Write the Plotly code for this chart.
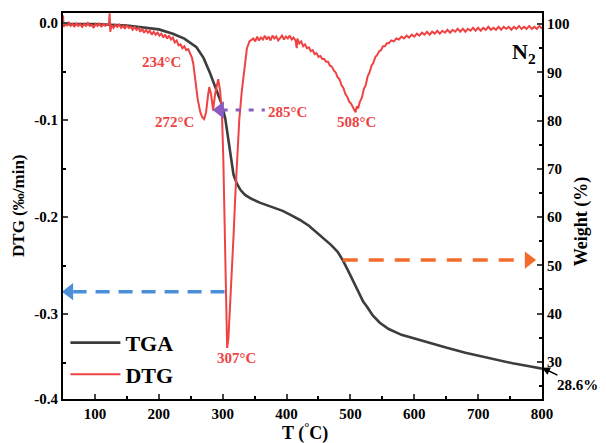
import plotly.graph_objects as go

# ---------------- data ----------------
tga_T = [50, 100, 150, 180, 200, 222, 240, 259, 270, 280, 290, 298, 304, 308, 311, 314, 317, 322,
         328, 335, 345, 358, 375, 394, 410, 421, 435, 448, 460, 470, 480, 488, 496, 504, 512, 520,
         526, 535, 546, 560, 580, 598, 625, 651, 680, 703, 730, 754, 780, 800]
tga_W = [100.0, 100.0, 99.7, 99.3, 98.9, 98.0, 97.0, 95.2, 93.0, 89.9, 86.5, 83.6, 80.5, 77.0, 74.0,
         71.0, 68.8, 67.0, 65.6, 64.6, 63.8, 63.0, 62.2, 61.3, 60.2, 59.4, 58.2, 56.7, 55.3, 54.2,
         52.8, 51.1, 49.0, 46.8, 44.4, 42.5, 41.4, 39.6, 38.1, 36.8, 35.6, 34.9, 33.8, 32.9, 31.9,
         31.2, 30.4, 29.7, 29.1, 28.6]

dtg_T = [50, 51, 53, 56, 59, 62, 65, 68, 71, 74, 77, 80, 83, 86, 89, 92, 95, 98, 101, 104, 107,
         110, 113, 116, 119, 122, 123, 124, 126, 129, 132, 135, 138, 141, 144, 147, 150, 153, 156,
         159, 162, 165, 168, 171, 174, 177, 180, 183, 186, 189, 192, 195, 198, 201, 204, 207, 210,
         213, 216, 219, 222, 225, 228, 231, 234, 237, 240, 243, 246, 249, 252, 254, 257, 261, 265,
         268, 271, 274, 277, 279, 282, 285, 288, 291, 293, 296, 299, 301, 303, 305, 307, 309, 311,
         314, 317, 320, 323, 326, 330, 334, 338, 342, 345,
         348, 351, 354, 357, 360, 363, 366, 369, 372, 375, 378, 381, 384, 387, 390, 393, 396, 399,
         402, 405, 408, 411, 414, 416, 417, 420, 423, 426, 429, 432, 435, 438, 441, 444, 447, 450,
         453, 456, 459, 462, 465, 468, 471, 474, 477, 480, 483, 486, 489, 492, 495, 498, 501, 504,
         506, 508, 510, 512, 515, 518, 521, 524, 527, 530, 533, 536, 539, 542, 545, 548, 551, 554,
         557, 560, 564, 568, 572, 576, 580, 584, 588, 592, 596, 600, 604, 608, 612, 616, 620, 624,
         628, 632, 636, 640, 644, 648, 652, 656, 660, 664, 668, 672, 676, 680, 684, 688, 692, 696,
         700, 704, 708, 712, 716, 720, 724, 728, 732, 736, 740, 744, 748, 752, 756, 760, 764, 768,
         772, 776, 780, 784, 788, 792, 796, 800]
dtg_V = [0.008, -0.004, 0.000, -0.003, 0.001, -0.003, -0.001, -0.004, 0.000, -0.003, -0.001,
         -0.004, -0.001, -0.003, 0.000, -0.003, -0.002, -0.005, -0.001, -0.003, 0.000, -0.004,
         -0.001, -0.003, -0.002, -0.001, 0.010, -0.009, -0.002, -0.005, -0.002, -0.004, -0.001,
         -0.005, -0.003, -0.006, -0.002, -0.005, -0.004, -0.007, -0.004, -0.007, -0.005, -0.009,
         -0.006, -0.010, -0.007, -0.010, -0.008, -0.012, -0.009, -0.012, -0.010, -0.013, -0.011,
         -0.015, -0.012, -0.016, -0.013, -0.017, -0.015, -0.020, -0.018, -0.023, -0.022, -0.026,
         -0.024, -0.028, -0.027, -0.031, -0.036, -0.042, -0.056, -0.079, -0.092, -0.097, -0.099,
         -0.092, -0.075, -0.066, -0.074, -0.090, -0.074, -0.062, -0.058, -0.070, -0.096, -0.140,
         -0.200, -0.280, -0.335, -0.325, -0.300, -0.265, -0.220, -0.175, -0.135, -0.100, -0.070,
         -0.045, -0.026, -0.019, -0.017,
         -0.016, -0.019, -0.014, -0.018, -0.015, -0.017, -0.013, -0.017, -0.014, -0.018, -0.013,
         -0.016, -0.014, -0.018, -0.015, -0.013, -0.017, -0.014, -0.016, -0.013, -0.017, -0.015,
         -0.018, -0.026, -0.016, -0.021, -0.019, -0.024, -0.022, -0.026, -0.025, -0.029, -0.028,
         -0.032, -0.031, -0.035, -0.034, -0.037, -0.037, -0.040, -0.040, -0.044, -0.045, -0.049,
         -0.051, -0.056, -0.058, -0.064, -0.067, -0.073, -0.076, -0.081, -0.083, -0.087, -0.088,
         -0.092, -0.086, -0.088, -0.081, -0.077, -0.068, -0.064, -0.055, -0.051, -0.044, -0.041,
         -0.035, -0.033, -0.029, -0.028, -0.024, -0.024, -0.021, -0.021, -0.018, -0.019, -0.016,
         -0.017, -0.014, -0.016, -0.013, -0.015, -0.012, -0.014, -0.011, -0.013, -0.010, -0.012,
         -0.009, -0.012, -0.009, -0.011, -0.008, -0.011, -0.008, -0.010, -0.007, -0.010, -0.007,
         -0.009, -0.006, -0.009, -0.006, -0.009, -0.006, -0.008, -0.005, -0.008, -0.005, -0.008,
         -0.005, -0.007, -0.004, -0.007, -0.005, -0.007, -0.004, -0.007, -0.004, -0.006, -0.004,
         -0.007, -0.004, -0.006, -0.003, -0.006, -0.004, -0.006, -0.003, -0.006, -0.004, -0.006,
         -0.003, -0.006]

x_ticks = [100, 200, 300, 400, 500, 600, 700, 800]
dtg_tickvals = [0.0, -0.1, -0.2, -0.3, -0.3876]
dtg_ticktext = ["0.0", "-0.1", "-0.2", "-0.3", "-0.4"]
w_ticks = [30, 40, 50, 60, 70, 80, 90, 100]

peak_labels = ["234°C", "272°C", "285°C", "508°C", "307°C"]
peak_T = [205, 224, 402, 510, 322]
peak_V = [-0.040, -0.102, -0.092, -0.102, -0.345]

# arrows (T values and level)
blue_T = [303, 66]; blue_head_T = [60]; blue_V = -0.277
orange_T = [488, 772]; orange_head_T = [779]; orange_W = 51.1
purple_T = [300, 366]; purple_head_T = [296]; purple_V = -0.0897

RED = "#ef4343"
GRAY = "#3d3d3d"
FONT = "Liberation Serif"

fig = go.Figure()
fig.add_trace(go.Scatter(x=tga_T, y=tga_W, mode="lines", name="TGA", yaxis="y",
                         line=dict(color=GRAY, width=2.6)))
fig.add_trace(go.Scatter(x=dtg_T, y=dtg_V, mode="lines", name="DTG", yaxis="y2",
                         line=dict(color=RED, width=2)))

# blue arrow
fig.add_trace(go.Scatter(x=blue_T, y=[blue_V] * 2, mode="lines", yaxis="y2", showlegend=False,
                         line=dict(color="#4a8fd8", width=3.5, dash="14px,9px"), hoverinfo="skip"))
fig.add_trace(go.Scatter(x=blue_head_T, y=[blue_V], mode="markers", yaxis="y2", showlegend=False,
                         marker=dict(symbol="triangle-left", size=15, color="#4a8fd8"),
                         hoverinfo="skip", cliponaxis=False))
# orange arrow
fig.add_trace(go.Scatter(x=orange_T, y=[orange_W] * 2, mode="lines", yaxis="y", showlegend=False,
                         line=dict(color="#f26b2a", width=3.5, dash="15px,11px"), hoverinfo="skip"))
fig.add_trace(go.Scatter(x=orange_head_T, y=[orange_W], mode="markers", yaxis="y", showlegend=False,
                         marker=dict(symbol="triangle-right", size=15, color="#f26b2a"),
                         hoverinfo="skip", cliponaxis=False))
# purple arrow
fig.add_trace(go.Scatter(x=purple_T, y=[purple_V] * 2, mode="lines", yaxis="y2", showlegend=False,
                         line=dict(color="#8a5cc0", width=3, dash="5px,8px"), hoverinfo="skip"))
fig.add_trace(go.Scatter(x=purple_head_T, y=[purple_V], mode="markers", yaxis="y2", showlegend=False,
                         marker=dict(symbol="triangle-left", size=15, color="#8a5cc0"),
                         hoverinfo="skip"))

annotations = []
for txt, t, v in zip(peak_labels, peak_T, peak_V):
    annotations.append(dict(x=t, y=v, xref="x", yref="y2", text=txt, showarrow=False,
                            xanchor="center", yanchor="middle",
                            font=dict(family=FONT, size=15, color=RED, weight="bold")))
annotations.append(dict(x=772, y=-0.031, xref="x", yref="y2", text="N<sub>2</sub>",
                        xanchor="center", yanchor="middle",
                        showarrow=False, font=dict(family=FONT, size=22, color="black", weight="bold")))
annotations.append(dict(x=800, y=28.8, xref="x", yref="y", text="28.6%", showarrow=True,
                        ax=35, ay=17, arrowhead=2, arrowsize=1, arrowwidth=1.6, arrowcolor="black",
                        standoff=0, font=dict(family=FONT, size=15, color="black", weight="bold")))
annotations.append(dict(x=0.505, y=-0.048, xref="paper", yref="paper", text="T (<sup>°</sup>C)",
                        xanchor="center", yanchor="top",
                        showarrow=False, font=dict(family=FONT, size=18, color="black", weight="bold")))
annotations.append(dict(x=-0.094, y=0.50, xref="paper", yref="paper", text="DTG (‰/min)",
                        textangle=-90, showarrow=False, xanchor="center", yanchor="middle",
                        font=dict(family=FONT, size=17, color="black", weight="bold")))
annotations.append(dict(x=1.083, y=0.46, xref="paper", yref="paper", text="Weight (%)",
                        textangle=-90, showarrow=False, xanchor="center", yanchor="middle",
                        font=dict(family=FONT, size=18, color="black", weight="bold")))

tickfont = dict(family=FONT, size=15, color="black", weight="bold")
# page body has an 8px margin, so the figure is drawn 8px smaller and offset
fig.update_layout(
    width=598, height=435, autosize=False,
    margin=dict(l=55, r=64, t=5, b=44, autoexpand=False),
    plot_bgcolor="white", paper_bgcolor="white",
    showlegend=True,
    legend=dict(x=0.005, y=0.2, xanchor="left", yanchor="top", bgcolor="rgba(0,0,0,0)",
                font=dict(family=FONT, size=22, color="black", weight="bold"),
                itemwidth=50, tracegroupgap=0),
    xaxis=dict(range=[50, 800], tickvals=x_ticks, ticks="inside", ticklen=5, tickwidth=2,
               showline=True, linecolor="black", linewidth=2, mirror=True, showgrid=False,
               zeroline=False, tickfont=tickfont, automargin=False,
               minor=dict(tickvals=[150, 250, 350, 450, 550, 650, 750], ticks="inside", ticklen=3,
                          tickwidth=2, tickcolor="black")),
    yaxis=dict(range=[22.3, 102.3], side="right", tickvals=w_ticks, ticks="inside", ticklen=5,
               tickwidth=2, showline=True, linecolor="black", linewidth=2, showgrid=False,
               zeroline=False, tickfont=tickfont, automargin=False,
               minor=dict(tickvals=[25, 35, 45, 55, 65, 75, 85, 95], ticks="inside", ticklen=3,
                          tickwidth=2, tickcolor="black")),
    yaxis2=dict(range=[-0.3876, 0.0103], side="left", overlaying="y", tickvals=dtg_tickvals,
                ticktext=dtg_ticktext, ticks="inside", ticklen=5, tickwidth=2, showline=True,
                linecolor="black", linewidth=2, showgrid=False, zeroline=False, tickfont=tickfont,
                automargin=False,
                minor=dict(tickvals=[-0.05, -0.15, -0.25, -0.35], ticks="inside", ticklen=3,
                           tickwidth=2, tickcolor="black")),
    annotations=annotations,
)

fig.write_html("out.html")
